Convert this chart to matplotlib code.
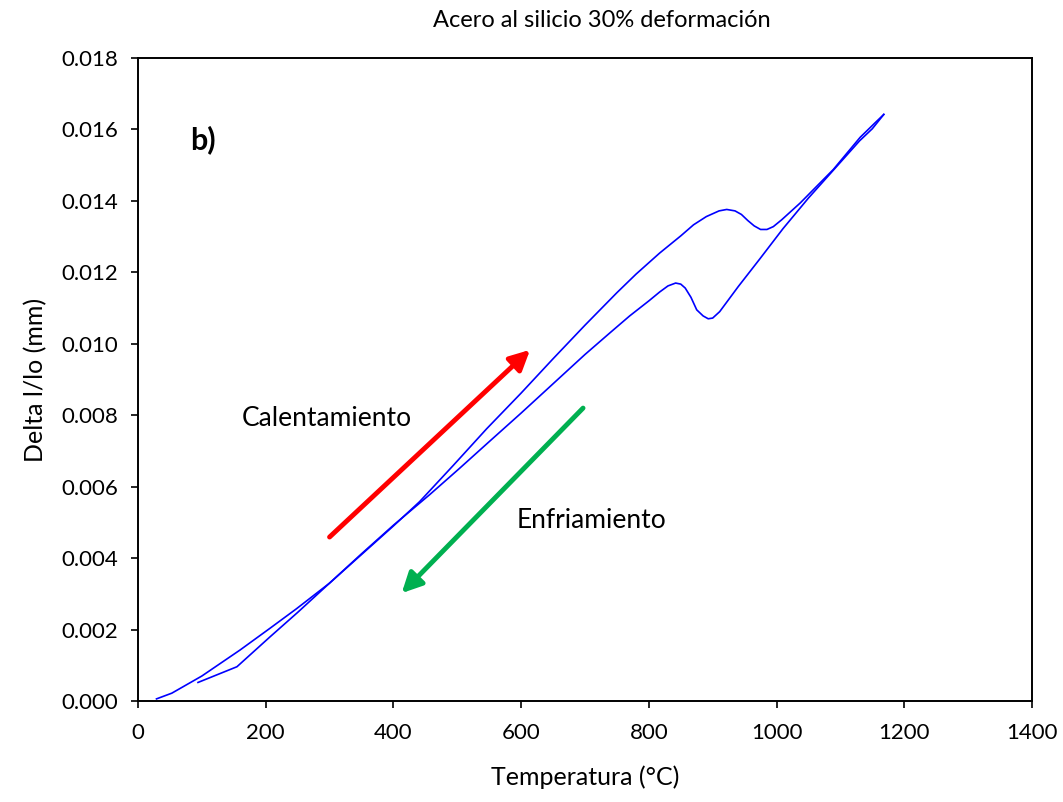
import matplotlib
matplotlib.use("Agg")
import matplotlib.pyplot as plt

plt.rcParams['font.family'] = ['Lato', 'DejaVu Sans']

# Dilatometry curve: heating branch (°C, ΔL/Lo)
heat_T = [29, 53, 100, 160, 207, 248, 300, 350, 400, 441, 494, 546, 600, 650,
          700, 750, 780, 817, 850, 870, 890, 910, 922, 935, 945, 955, 965,
          975, 985, 995, 1008, 1037, 1089, 1131, 1154, 1168]
heat_dl = [0.00006, 0.00022, 0.00070, 0.00143, 0.00204, 0.00258, 0.00330,
           0.00410, 0.00490, 0.00558, 0.00660, 0.00762, 0.00862, 0.00958,
           0.01052, 0.01143, 0.01195, 0.01254, 0.01302, 0.01333, 0.01356,
           0.01372, 0.01376, 0.01372, 0.01362, 0.01345, 0.01330, 0.01320,
           0.01320, 0.01328, 0.01347, 0.01394, 0.01488, 0.01578, 0.01618,
           0.01642]

# Cooling branch (°C, ΔL/Lo)
cool_T = [1168, 1150, 1130, 1100, 1050, 1010, 974, 940, 911, 900, 893, 885,
          875, 866, 857, 850, 842, 830, 817, 800, 770, 740, 700, 650, 600,
          550, 504, 457, 400, 350, 300, 250, 207, 155, 94]
cool_dl = [0.01642, 0.01602, 0.01568, 0.01508, 0.01408, 0.01322, 0.01238,
           0.01160, 0.01090, 0.01072, 0.01070, 0.01078, 0.01095, 0.01130,
           0.01156, 0.01167, 0.01170, 0.01162, 0.01145, 0.01120, 0.01078,
           0.01032, 0.00970, 0.00888, 0.00806, 0.00726, 0.00652, 0.00578,
           0.00492, 0.00412, 0.00330, 0.00248, 0.00180, 0.00096, 0.00052]

x_ticks = [0, 200, 400, 600, 800, 1000, 1200, 1400]
y_ticks = [0.000, 0.002, 0.004, 0.006, 0.008, 0.010, 0.012, 0.014, 0.016, 0.018]

fig = plt.figure(figsize=(10.63, 8.02), dpi=100)
ax = fig.add_axes([0.1298, 0.1259, 0.8410, 0.8018])

ax.plot(heat_T, heat_dl, color='#0000ff', lw=1.2)
ax.plot(cool_T, cool_dl, color='#0000ff', lw=1.2)

ax.set_xlim(0, 1400)
ax.set_ylim(0, 0.018)
ax.set_xticks(x_ticks)
ax.set_yticks(y_ticks)
ax.set_yticklabels([f"{v:.3f}" for v in y_ticks])
ax.tick_params(direction='out', length=5, width=1.2, labelsize=16)
ax.tick_params(axis='x', pad=11)
ax.tick_params(axis='y', pad=9)
for s in ax.spines.values():
    s.set_linewidth(1.4)

ax.set_xlabel('Temperatura (°C)', fontsize=18, labelpad=16)
ax.set_ylabel('Delta l/lo (mm)', fontsize=18, labelpad=10)
ax.set_title('Acero al silicio 30% deformación', fontsize=17, pad=22, x=0.519)

# Direction arrows
ax.annotate('', xy=(614, 0.00983), xytext=(300, 0.00459),
            arrowprops=dict(arrowstyle='-|>,head_length=1.2,head_width=0.6',
                            color='#ff0000', lw=3.5, shrinkA=0, shrinkB=0))
ax.annotate('', xy=(413, 0.00302), xytext=(697, 0.00820),
            arrowprops=dict(arrowstyle='-|>,head_length=1.2,head_width=0.6',
                            color='#00b050', lw=3.5, shrinkA=0, shrinkB=0))

ax.text(296, 0.00792, 'Calentamiento', fontsize=19, ha='center', va='center')
ax.text(711, 0.00504, 'Enfriamiento', fontsize=19, ha='center', va='center')
ax.text(102, 0.0157, 'b)', fontsize=22, fontweight='bold', ha='center', va='center')

fig.savefig('out.png', dpi=100)
